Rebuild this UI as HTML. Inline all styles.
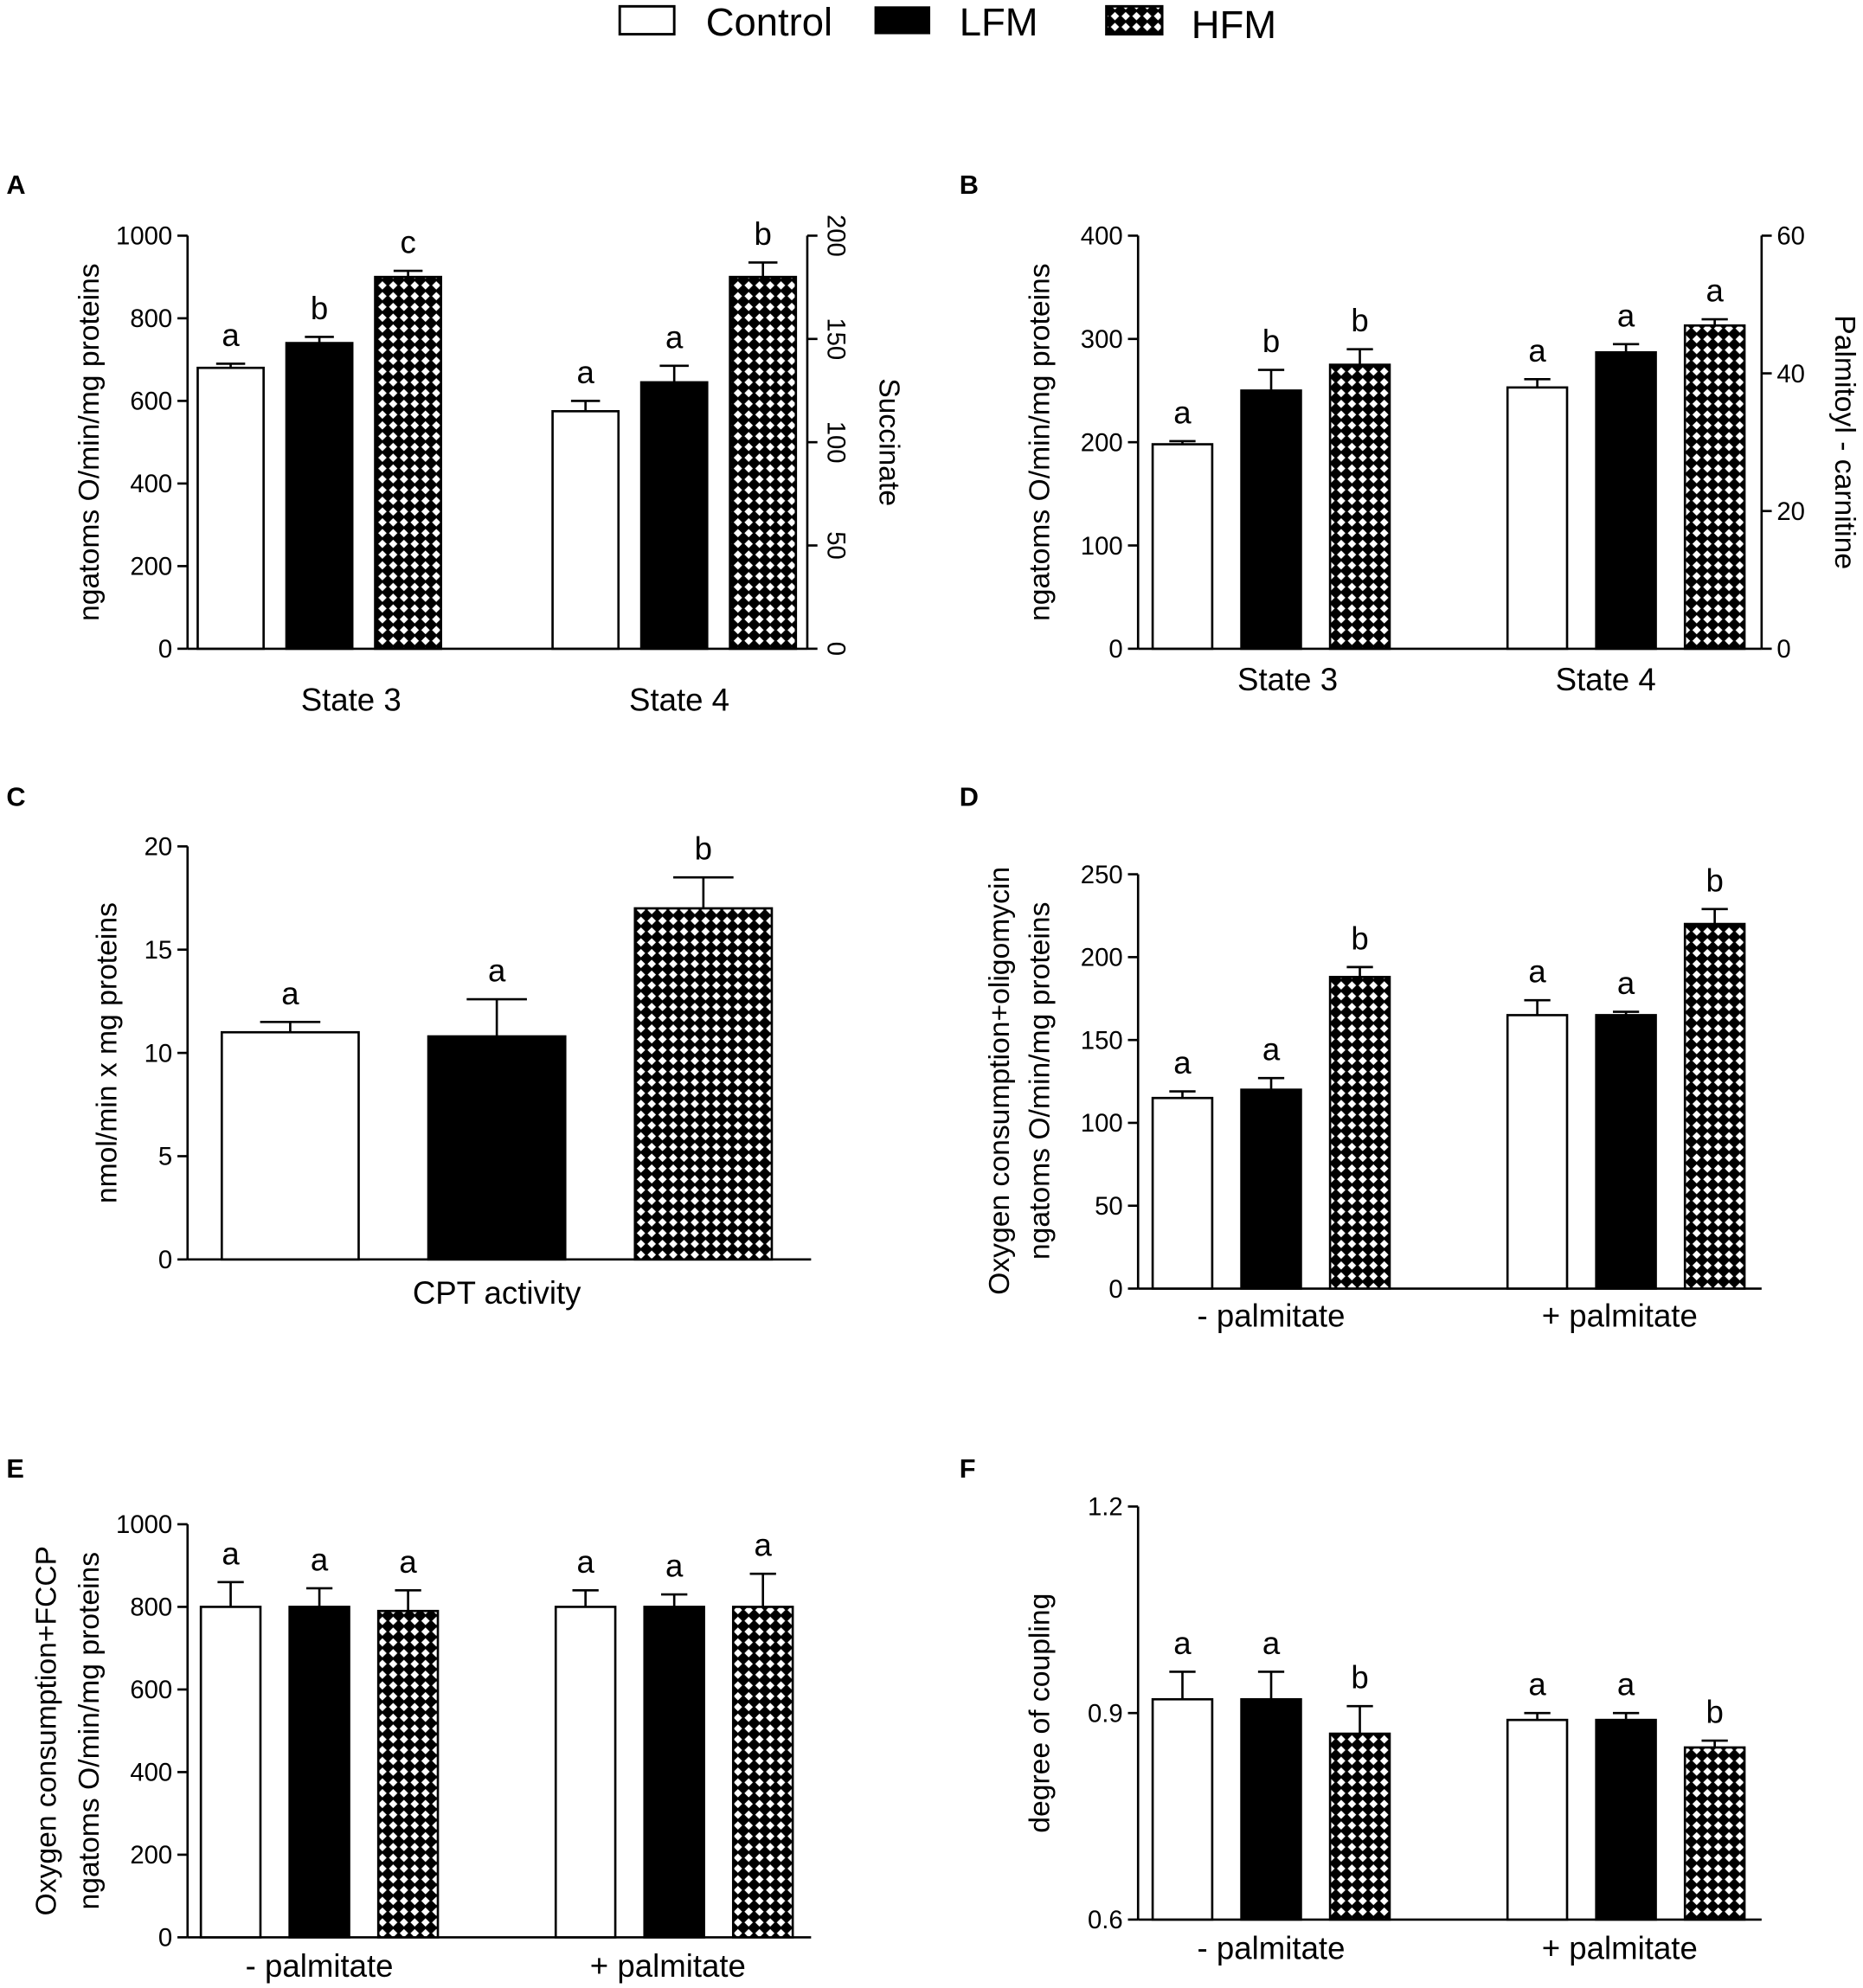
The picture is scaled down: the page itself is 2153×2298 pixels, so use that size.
<!DOCTYPE html>
<html><head><meta charset="utf-8"><style>html,body{margin:0;padding:0;background:#fff}svg{display:block}text{font-family:"Liberation Sans",Arial,sans-serif;fill:#000}</style></head>
<body>
<svg id="fig" width="2153" height="2298" viewBox="0 0 1470 1569" xmlns="http://www.w3.org/2000/svg">
<defs>
<pattern id="hatch" patternUnits="userSpaceOnUse" width="8.5" height="8.5">
<rect width="8.5" height="8.5" fill="#000"/>
<polygon points="4.25,0.9 7.6,4.25 4.25,7.6 0.9,4.25" fill="#fff"/>
</pattern>
</defs>
<g>
<rect x="489" y="5" width="43" height="22" fill="#fff" stroke="#000" stroke-width="2"/>
<text x="557" y="28" font-size="31">Control</text>
<rect x="690" y="5" width="44" height="22" fill="#000"/>
<text x="757" y="28" font-size="31">LFM</text>
<rect x="873" y="5" width="44" height="22" fill="url(#hatch)" stroke="#000" stroke-width="2"/>
<text x="940" y="30" font-size="31">HFM</text>
</g>
</svg>
<script>
// Panel A
const aCats = ["State 3","State 4"];
const aVals = [[680,740,900],[575,645,900]];
const aErr = [[10,15,15],[25,40,35]];
const aLet = [["a","b","c"],["a","a","b"]];
const aTicks = [0,200,400,600,800,1000];
const aRTicks = ["0","50","100","150","200"];
// Panel B
const bCats = ["State 3","State 4"];
const bVals = [[198,250,275],[253,287,313]];
const bErr = [[3,20,15],[8,8,6]];
const bLet = [["a","b","b"],["a","a","a"]];
const bTicks = [0,100,200,300,400];
const bRTicks = ["0","20","40","60"];
// Panel C
const cCats = ["CPT activity"];
const cVals = [[11,10.8,17]];
const cErr = [[0.5,1.8,1.5]];
const cLet = [["a","a","b"]];
const cTicks = [0,5,10,15,20];
// Panel D
const dCats = ["- palmitate","+ palmitate"];
const dVals = [[115,120,188],[165,165,220]];
const dErr = [[4,7,6],[9,2,9]];
const dLet = [["a","a","b"],["a","a","b"]];
const dTicks = [0,50,100,150,200,250];
// Panel E
const eCats = ["- palmitate","+ palmitate"];
const eVals = [[800,800,790],[800,800,800]];
const eErr = [[60,45,50],[40,30,80]];
const eLet = [["a","a","a"],["a","a","a"]];
const eTicks = [0,200,400,600,800,1000];
// Panel F
const fCats = ["- palmitate","+ palmitate"];
const fVals = [[0.92,0.92,0.87],[0.89,0.89,0.85]];
const fErr = [[0.04,0.04,0.04],[0.01,0.01,0.01]];
const fLet = [["a","a","b"],["a","a","b"]];
const fTicks = ["0.6","0.9","1.2"];

const NS="http://www.w3.org/2000/svg";
const svg=document.getElementById('fig');
function mk(tag,attrs,parent,txt){const e=document.createElementNS(NS,tag);for(const k in attrs)e.setAttribute(k,attrs[k]);if(txt!==undefined)e.textContent=txt;(parent||svg).appendChild(e);return e;}
const fills=["#fff","#000","url(#hatch)"];
const grpNames=["control","lfm","hfm"];
const SW=1.8;

function panel(o){
  const g=mk('g',{});
  
  
  const ys=v=>o.y0-(v-o.min)/(o.max-o.min)*(o.y0-o.y1);
  let t=mk('text',{x:o.lx,y:o.ly,'font-size':21,'font-weight':'bold'},g,o.id.toUpperCase());
  
  
  let ax=mk('line',{x1:o.x0,y1:o.y1,x2:o.x0,y2:o.y0,stroke:'#000','stroke-width':SW},g);
  
  
  o.ticks.forEach(tv=>{const v=parseFloat(tv);const y=ys(v);
    mk('line',{x1:o.x0-8,y1:y,x2:o.x0,y2:y,stroke:'#000','stroke-width':SW},g);
    const tl=mk('text',{x:o.x0-12,y:y+7,'font-size':20,'text-anchor':'end'},g,String(tv));
    
    
  });
  let xa=mk('line',{x1:o.x0,y1:o.y0,x2:o.xe,y2:o.y0,stroke:'#000','stroke-width':SW},g);
  
  
  o.ytitle.forEach((s,i)=>{const x=o.ytx[i];
    const tt=mk('text',{x:x,y:o.yty,'font-size':23,'text-anchor':'middle',transform:`rotate(-90 ${x} ${o.yty})`},g,s);
    
    
  });
  if(o.right){const r=o.right;
    mk('line',{x1:r.x,y1:o.y1,x2:r.x,y2:o.y0,stroke:'#000','stroke-width':SW},g);
    const n=r.ticks.length;
    r.ticks.forEach((s,i)=>{const y=o.y0-i/(n-1)*(o.y0-o.y1);
      mk('line',{x1:r.x,y1:y,x2:r.x+8,y2:y,stroke:'#000','stroke-width':SW},g);
      let tl;
      if(r.rot) tl=mk('text',{x:r.x+16,y:y,'font-size':20,'text-anchor':'middle',transform:`rotate(90 ${r.x+16} ${y})`},g,s);
      else tl=mk('text',{x:r.x+12,y:y+7,'font-size':20},g,s);
      
      
    });
    const rt=mk('text',{x:r.tx,y:o.yty,'font-size':23,'text-anchor':'middle',transform:`rotate(90 ${r.tx} ${o.yty})`},g,r.title);
    
    
  }
  o.cats.forEach((c,gi)=>{
    const cl=mk('text',{x:o.catX[gi],y:o.catY,'font-size':25,'text-anchor':'middle'},g,c);
    
    
    o.vals[gi].forEach((v,bi)=>{
      const cx=o.barX[gi]+(bi-1)*o.sp, w=o.bw;
      const top=ys(v), et=ys(v+o.err[gi][bi]);
      const b=mk('rect',{x:cx-w/2,y:top,width:w,height:o.y0-top,fill:fills[bi],stroke:'#000','stroke-width':SW},g);
      
      
      mk('line',{x1:cx,y1:top,x2:cx,y2:et,stroke:'#000','stroke-width':SW},g);
      mk('line',{x1:cx-w*0.22,y1:et,x2:cx+w*0.22,y2:et,stroke:'#000','stroke-width':SW},g);
      const lt=mk('text',{x:cx,y:et-14,'font-size':25,'text-anchor':'middle'},g,o.lets[gi][bi]);
      
      
    });
  });
}
panel({id:'a',lx:5,ly:153,x0:148,xe:637,y0:512,y1:186,min:0,max:1000,ticks:aTicks,ytitle:["ngatoms O/min/mg proteins"],ytx:[78],yty:349,
  right:{x:637,ticks:aRTicks,rot:true,title:"Succinate",tx:694},cats:aCats,catX:[277,536],barX:[252,532],catY:561,sp:70,bw:52,vals:aVals,err:aErr,lets:aLet});
panel({id:'b',lx:757,ly:153,x0:898,xe:1390,y0:512,y1:186,min:0,max:400,ticks:bTicks,ytitle:["ngatoms O/min/mg proteins"],ytx:[828],yty:349,
  right:{x:1390,ticks:bRTicks,rot:false,title:"Palmitoyl - carnitine",tx:1448},cats:bCats,catX:[1016,1267],barX:[1003,1283],catY:545,sp:70,bw:47,vals:bVals,err:bErr,lets:bLet});
panel({id:'c',lx:5,ly:636,x0:148,xe:640,y0:994,y1:668,min:0,max:20,ticks:cTicks,ytitle:["nmol/min x mg proteins"],ytx:[92],yty:831,
  cats:cCats,catX:[392],barX:[392],catY:1029,sp:163,bw:108,vals:cVals,err:cErr,lets:cLet});
panel({id:'d',lx:757,ly:636,x0:898,xe:1390,y0:1017,y1:690,min:0,max:250,ticks:dTicks,ytitle:["Oxygen consumption+oligomycin","ngatoms O/min/mg proteins"],ytx:[796,828],yty:853,
  cats:dCats,catX:[1003,1278],barX:[1003,1283],catY:1047,sp:70,bw:47,vals:dVals,err:dErr,lets:dLet});
panel({id:'e',lx:5,ly:1166,x0:148,xe:640,y0:1529,y1:1203,min:0,max:1000,ticks:eTicks,ytitle:["Oxygen consumption+FCCP","ngatoms O/min/mg proteins"],ytx:[44,78],yty:1366,
  cats:eCats,catX:[252,527],barX:[252,532],catY:1560,sp:70,bw:47,vals:eVals,err:eErr,lets:eLet});
panel({id:'f',lx:757,ly:1166,x0:898,xe:1390,y0:1515,y1:1189,min:0.6,max:1.2,ticks:fTicks,ytitle:["degree of coupling"],ytx:[828],yty:1352,
  cats:fCats,catX:[1003,1278],barX:[1003,1283],catY:1546,sp:70,bw:47,vals:fVals,err:fErr,lets:fLet});
</script>
</body></html>
